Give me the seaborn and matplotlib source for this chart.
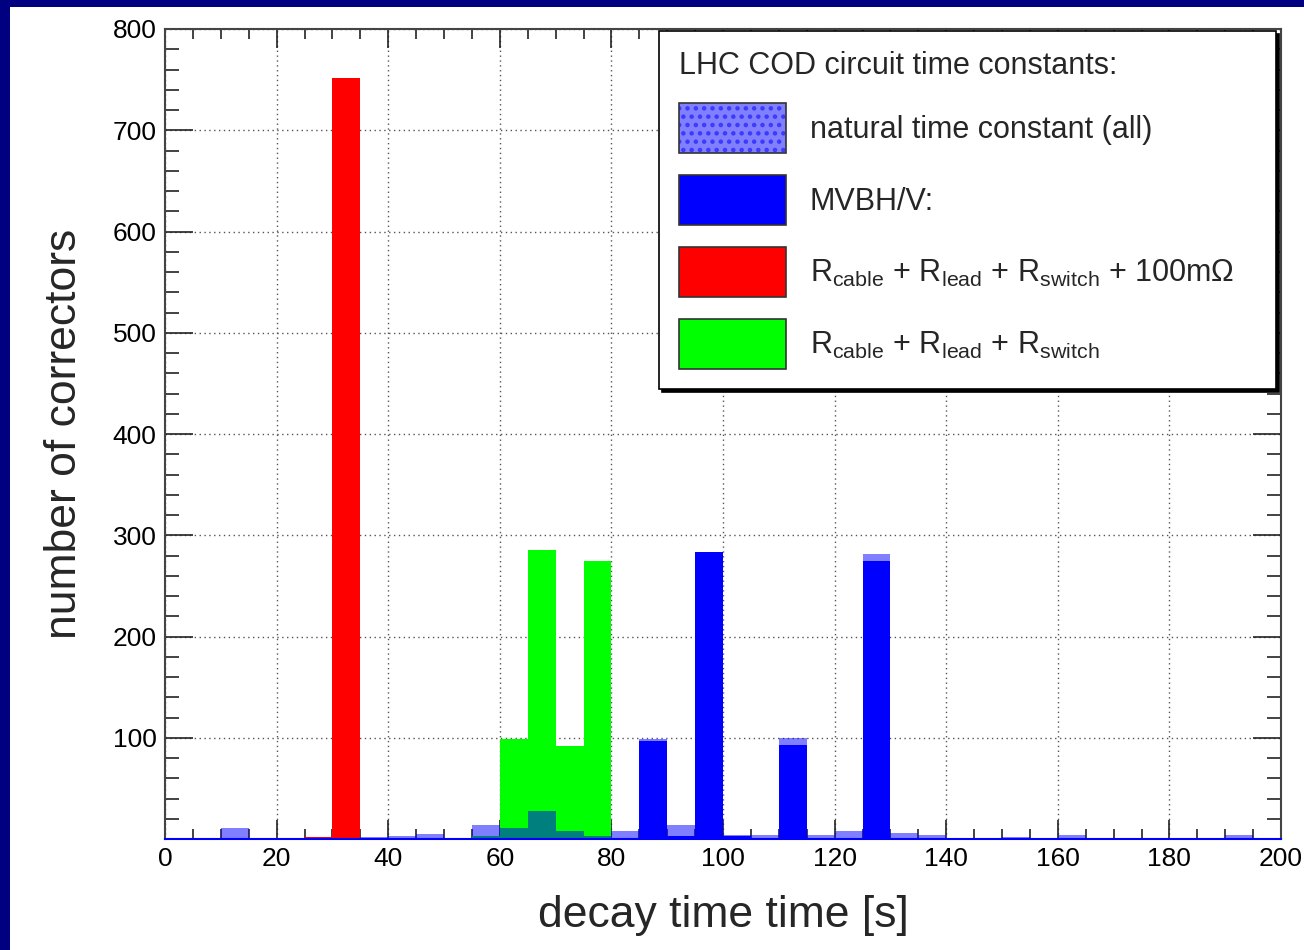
"""
LHC COD circuit decay time constants - histogram of corrector counts per 5 s bin.
"""
import numpy as np
import pandas as pd
import matplotlib
matplotlib.use("Agg")
import matplotlib.pyplot as plt
from matplotlib.patches import Patch, Rectangle
from matplotlib.ticker import MultipleLocator
import seaborn as sns

# bin layout [s]
BIN_WIDTH = 5
X_MIN, X_MAX = 0, 200

# natural time constant (all circuits): bin left edge [s] -> count
natural_bins = [10, 35, 40, 45, 55, 60, 65, 70, 75, 80, 85, 90, 95, 100,
                105, 110, 115, 120, 125, 130, 135, 150, 160, 190]
natural_counts = [11, 2, 3, 5, 14, 11, 28, 8, 3, 8, 99, 14, 283, 4,
                  4, 100, 4, 8, 281, 6, 4, 2, 4, 4]

# MVBH/V
mvb_bins = [85, 90, 95, 100, 110, 125]
mvb_counts = [97, 3, 283, 3, 93, 275]

# R_cable + R_lead + R_switch + 100 mOhm
red_bins = [25, 30]
red_counts = [2, 752]

# R_cable + R_lead + R_switch
green_bins = [55, 60, 65, 70, 75]
green_counts = [3, 99, 285, 92, 275]

legend_title = "LHC COD circuit time constants:"
legend_labels = [
    "natural time constant (all)",
    "MVBH/V:",
    r"R$_{\mathrm{cable}}$ + R$_{\mathrm{lead}}$ + R$_{\mathrm{switch}}$ + 100mΩ",
    r"R$_{\mathrm{cable}}$ + R$_{\mathrm{lead}}$ + R$_{\mathrm{switch}}$",
]

sns.set_theme(style="ticks")
plt.rcParams["font.family"] = ["Liberation Sans", "DejaVu Sans"]
plt.rcParams["mathtext.fontset"] = "custom"
plt.rcParams["mathtext.rm"] = "Liberation Sans"
plt.rcParams["mathtext.it"] = "Liberation Sans:italic"
plt.rcParams["hatch.color"] = "#3a3aff"
plt.rcParams["hatch.linewidth"] = 2.0


def draw_hist(ax, bins, counts, color, alpha=1.0):
    df = pd.DataFrame({"t": np.asarray(bins, dtype=float) + BIN_WIDTH / 2,
                       "n": counts})
    sns.histplot(data=df, x="t", weights="n", binwidth=BIN_WIDTH,
                 binrange=(X_MIN, X_MAX), stat="count", element="bars",
                 color=color, alpha=alpha, linewidth=0, edgecolor="none", ax=ax)


fig = plt.figure(figsize=(13.04, 9.5), dpi=100)
fig.patch.set_facecolor("white")
# navy slide frame on the left and top
fig.patches.append(Rectangle((0, 0), 10 / 1304, 1, transform=fig.transFigure,
                             facecolor="#000080", edgecolor="none", zorder=0))
fig.patches.append(Rectangle((0, 1 - 7 / 950), 1, 7 / 950, transform=fig.transFigure,
                             facecolor="#000080", edgecolor="none", zorder=0))

ax = fig.add_axes([165 / 1304, 1 - 839 / 950, 1116 / 1304, 810 / 950])

draw_hist(ax, red_bins, red_counts, "#ff0000")
draw_hist(ax, green_bins, green_counts, "#00ff00")
draw_hist(ax, mvb_bins, mvb_counts, "#0000ff")
draw_hist(ax, natural_bins, natural_counts, "#0000ff", alpha=0.5)

ax.set_xlim(X_MIN, X_MAX)
ax.set_ylim(0, 800)
ax.set_axisbelow(True)
ax.grid(True, which="major", linestyle=(0, (1, 2.5)), color="#555555", linewidth=1.0)

ax.xaxis.set_major_locator(MultipleLocator(20))
ax.xaxis.set_minor_locator(MultipleLocator(5))
ax.yaxis.set_major_locator(MultipleLocator(100))
ax.yaxis.set_minor_locator(MultipleLocator(20))
ax.set_yticks([100, 200, 300, 400, 500, 600, 700, 800])

ax.tick_params(axis="x", which="major", direction="in", length=14, width=1.2,
               top=True, bottom=True, labelsize=19, pad=6, colors="#222222",
               labelcolor="black")
ax.tick_params(axis="x", which="minor", direction="in", length=7, width=1.2,
               top=True, bottom=True, colors="#222222")
ax.tick_params(axis="y", which="major", direction="in", length=20, width=1.2,
               left=True, right=True, labelsize=19, pad=6, colors="#222222",
               labelcolor="black")
ax.tick_params(axis="y", which="minor", direction="in", length=10, width=1.2,
               left=True, right=True, colors="#222222")

for side in ["top", "left", "right"]:
    ax.spines[side].set_color("#444444")
    ax.spines[side].set_linewidth(1.5)
ax.spines["bottom"].set_color("#0000ff")
ax.spines["bottom"].set_linewidth(1.5)

ax.set_xlabel("decay time time [s]", fontsize=32, labelpad=17)
ax.set_ylabel("number of correctors", fontsize=32, labelpad=20)

# legend handles
handles = [
    Patch(facecolor="#8080ff", edgecolor="#333333", linewidth=1.2, hatch=".."),
    Patch(facecolor="#0000ff", edgecolor="#333333", linewidth=1.2),
    Patch(facecolor="#ff0000", edgecolor="#333333", linewidth=1.2),
    Patch(facecolor="#00ff00", edgecolor="#333333", linewidth=1.2),
]
handles[0]._hatch_color = matplotlib.colors.to_rgba("#3a3aff")

leg = ax.legend(handles, legend_labels, title=legend_title,
                loc="upper left",
                bbox_to_anchor=((659 - 165) / 1116, (839 - 383) / 810,
                                (1276 - 659) / 1116, (383 - 31) / 810),
                mode="expand", borderaxespad=0, fontsize=22,
                title_fontsize=22, alignment="left",
                handlelength=3.5, handleheight=2.14, handletextpad=0.78,
                labelspacing=0.72, borderpad=0.66,
                frameon=True, fancybox=False, framealpha=1,
                edgecolor="black", shadow={"color": "black", "alpha": 1})
leg.get_frame().set_linewidth(1.2)

fig.savefig("out.png", dpi=100, facecolor=fig.get_facecolor())
